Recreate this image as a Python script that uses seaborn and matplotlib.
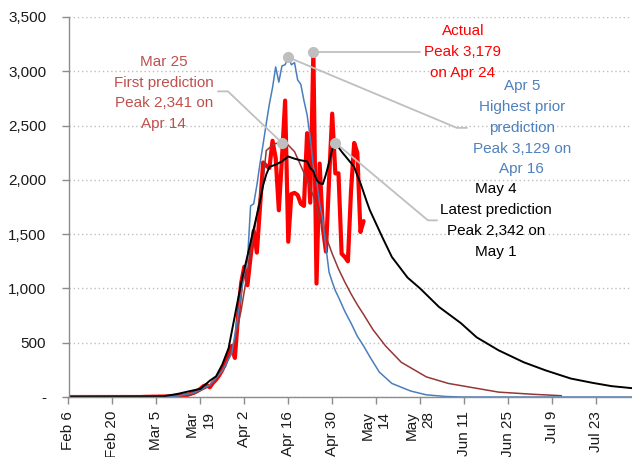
import matplotlib
matplotlib.use("Agg")
import matplotlib.pyplot as plt
import numpy as np
import pandas as pd
import seaborn as sns

# ---------------------------------------------------------------------------
# Data; x values are days since Feb 6, 2020
# ---------------------------------------------------------------------------
start_date = "2020-02-06"

actual_days = list(range(0, 95))
actual_deaths = [0] * 24 + [
    1, 2, 2, 3, 3, 4, 4, 5, 6, 7,                      # Mar 1 - Mar 10
    8, 10, 12, 15, 20, 30, 40, 55, 75, 100,            # Mar 11 - Mar 20
    110, 90, 130, 160, 200, 250, 320, 400, 470, 360,   # Mar 21 - Mar 30
    740, 1050, 1200, 1030, 1290, 1530, 1330, 1750, 2160, 2130,  # Mar 31 - Apr 9
    2110, 2360, 2200, 1720, 2200, 2730, 1430, 1870, 1880, 1860,  # Apr 10 - Apr 19
    1780, 1760, 2430, 1790, 3179, 1045, 2150, 1560, 1340, 2000,  # Apr 20 - Apr 29
    2610, 2060, 2060, 1320, 1290, 1250, 1900, 2340, 2250, 1520,  # Apr 30 - May 9
    1620,                                                         # May 10
]

mar25_days = [0, 30, 35, 40, 45, 50, 53, 55, 57, 59, 61, 62, 63, 65, 66, 68,
              70, 72, 74, 76, 78, 80, 82, 84, 86, 88, 90, 92, 94, 97, 101,
              106, 114, 121, 130, 137, 148, 157]
mar25_deaths = [0, 0, 5, 30, 100, 280, 520, 800, 1150, 1500, 1850, 2000, 2270,
                2320, 2335, 2341, 2320, 2260, 2130, 2000, 1850, 1640, 1480,
                1320, 1180, 1060, 950, 850, 760, 620, 470, 320, 185, 125, 80,
                45, 25, 12]

apr5_days = [0, 30, 35, 40, 45, 49, 52, 54, 55, 56, 57, 58, 59, 60, 61, 62,
             63, 64, 65, 66, 67, 68, 69, 70, 71, 72, 73, 74, 75, 76, 77, 78,
             79, 80, 81, 82, 83, 84, 85, 86, 88, 90, 92, 94, 96, 99, 103, 109,
             114, 120, 125, 180]
apr5_deaths = [0, 0, 10, 40, 110, 240, 400, 750, 950, 1150, 1250, 1760, 1780,
               1950, 2150, 2330, 2520, 2700, 2850, 3040, 2900, 3050, 3060,
               3129, 3060, 3080, 2920, 2880, 2730, 2600, 2390, 2120, 2000,
               1780, 1630, 1380, 1150, 1060, 980, 920, 790, 680, 560, 470,
               370, 230, 125, 55, 20, 5, 0, 0]

may4_days = [0, 30, 35, 38, 42, 45, 47, 49, 51, 53, 55, 57, 59, 61, 62, 63,
             64, 66, 68, 70, 72, 74, 76, 77, 78, 79, 80, 81, 82, 83, 84, 85,
             86, 87, 89, 91, 92, 93, 95, 96, 100, 103, 108, 112, 118, 125,
             130, 137, 145, 152, 160, 167, 173, 180]
may4_deaths = [0, 5, 30, 50, 75, 150, 190, 300, 450, 750, 1050, 1300, 1550,
               1800, 1950, 2050, 2120, 2140, 2170, 2215, 2195, 2180, 2170,
               2110, 2080, 2000, 1970, 1960, 2050, 2160, 2280, 2342, 2300,
               2260, 2190, 2120, 2040, 1970, 1800, 1720, 1470, 1290, 1100,
               1000, 830, 680, 550, 430, 320, 245, 170, 130, 100, 80]

tick_labels = ["Feb 6", "Feb 20", "Mar 5", "Mar\n19", "Apr 2", "Apr 16",
               "Apr 30", "May\n14", "May\n28", "Jun 11", "Jun 25", "Jul 9",
               "Jul 23"]

series = [
    # name, days, values, line colour, width, text colour, label, text pos, leader path
    ("Actual", actual_days, actual_deaths, "#FF0000", 3.0, "#FF0000",
     "Actual\nPeak 3,179\non Apr 24", (125.6, 3175), [(111.9, 3179)]),
    ("Mar 25", mar25_days, mar25_deaths, "#953735", 1.1, "#C0504D",
     "Mar 25\nFirst prediction\nPeak 2,341 on\nApr 14", (30.4, 2800),
     [(50.8, 2815), (47.6, 2815)]),
    ("Apr 5", apr5_days, apr5_deaths, "#4A7EBB", 1.1, "#4F81BD",
     "Apr 5\nHighest prior\nprediction\nPeak 3,129 on\nApr 16", (144.4, 2480),
     [(123.7, 2479), (126.9, 2479)]),
    ("May 4", may4_days, may4_deaths, "#000000", 1.4, "#000000",
     "May 4\nLatest prediction\nPeak 2,342 on\nMay 1", (136.1, 1627),
     [(114.5, 1627), (117.4, 1627)]),
]

# ---------------------------------------------------------------------------
sns.set_theme(style="white")
plt.rcParams["font.family"] = ["Liberation Sans", "DejaVu Sans"]

t0 = pd.Timestamp(start_date)
to_date = lambda d: t0 + pd.to_timedelta(d, unit="D")

fig = plt.figure(figsize=(6.32, 4.57), dpi=100)
ax = fig.add_axes([68.5 / 632, 1 - 397 / 457, (632 - 68.5) / 632, 380 / 457])

frames = []
for name, days, vals, color, lw, *_ in series:
    df = pd.DataFrame({"date": to_date(np.array(days)), "deaths": vals})
    sns.lineplot(data=df, x="date", y="deaths", color=color, linewidth=lw,
                 ax=ax, zorder=2)
    frames.append(df)

# peaks, leader lines and call-out text
for (name, days, vals, color, lw, tcolor, label, tpos, path), df in zip(series, frames):
    peak = df.loc[df["deaths"].idxmax()]
    xs = [peak["date"]] + [to_date(p[0]) for p in path]
    ys = [peak["deaths"]] + [p[1] for p in path]
    ax.plot(xs, ys, color="#BFBFBF", linewidth=1.3, zorder=3)
    ax.plot([peak["date"]], [peak["deaths"]], "o", color="#BFBFBF",
            markersize=7, zorder=4)
    ax.text(to_date(tpos[0]), tpos[1], label, color=tcolor, fontsize=11,
            ha="center", va="center", linespacing=1.62, zorder=5,
            family=["Liberation Sans Narrow", "Liberation Sans", "DejaVu Sans"])

ax.set_xlim(to_date(0), to_date(179.5))
ax.set_ylim(0, 3500)
ax.set_yticks(np.arange(0, 3501, 500))
ax.set_yticklabels(["-"] + [f"{v:,}" for v in range(500, 3501, 500)])
ax.set_xticks([to_date(14 * i) for i in range(len(tick_labels))])
ax.set_xticklabels(tick_labels, rotation=90, ha="center", va="top",
                   multialignment="right")
ax.set_xlabel("")
ax.set_ylabel("")

ax.grid(axis="y", linestyle=(0, (1, 2)), color="#BFBFBF", linewidth=1.0)
ax.grid(axis="x", visible=False)
for side in ["top", "right"]:
    ax.spines[side].set_visible(False)
for side in ["left", "bottom"]:
    ax.spines[side].set_color("#8C8C8C")
    ax.spines[side].set_linewidth(1.0)
ax.tick_params(axis="both", which="major", length=5, width=1, color="#8C8C8C",
               labelcolor="#1A1A1A", direction="out", left=True, bottom=True)
ax.tick_params(axis="y", pad=11, labelsize=11)
ax.tick_params(axis="x", pad=5, labelsize=11)

fig.savefig("out.png", dpi=100)
